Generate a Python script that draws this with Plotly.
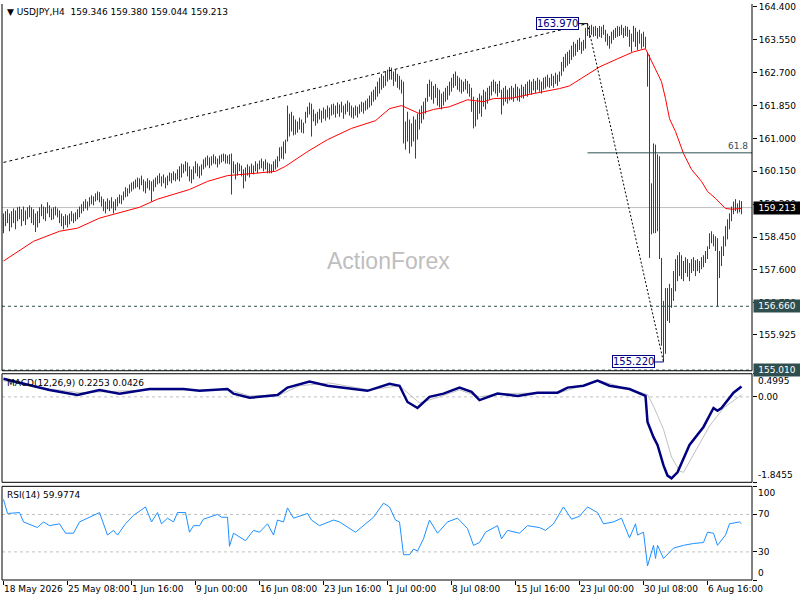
import plotly.graph_objects as go

FONT = 'DejaVu Sans'
BAR_COLOR = '#1A4A6E'
SLATE = '#2F4F4F'
GREY = '#C0C0C0'
NAVY = '#000080'
DEFAULT_CONFIG = {'displayModeBar': False}
JAVASCRIPT = "document.body.style.margin = '0'; document.body.style.overflow = 'hidden';"

# x axis: one slot per H4 bar, no weekend gaps
TICK_BARS = [0, 32, 64, 96, 128, 160, 192, 224, 256, 288, 320, 352]
TICK_LABELS = ['18 May 2026', '25 May 08:00', '1 Jun 16:00', '9 Jun 00:00', '16 Jun 08:00',
               '23 Jun 16:00', '1 Jul 00:00', '8 Jul 08:00', '15 Jul 16:00', '23 Jul 00:00',
               '30 Jul 08:00', '6 Aug 16:00']

HIGH = [
    159.06, 159.12, 159.17, 159.06, 159.12, 159.19, 159.14, 159.22, 159.24, 159.17,
    159.24, 159.14, 159.22, 159.27, 159.22, 159.17, 159.06, 159.12, 159.22, 159.30,
    159.24, 159.22, 159.35, 159.27, 159.19, 159.22, 159.24, 159.19, 159.14, 159.06,
    158.99, 159.04, 159.01, 159.06, 159.12, 159.06, 159.09, 159.17, 159.24, 159.30,
    159.37, 159.43, 159.37, 159.48, 159.53, 159.50, 159.58, 159.63, 159.61, 159.50,
    159.43, 159.37, 159.45, 159.40, 159.48, 159.37, 159.43, 159.48, 159.55, 159.53,
    159.63, 159.74, 159.71, 159.81, 159.86, 159.89, 159.94, 159.99, 159.97, 160.04,
    159.94, 159.89, 159.97, 159.92, 159.89, 159.94, 159.99, 160.04, 160.10, 160.02,
    160.07, 159.99, 160.04, 160.12, 160.10, 160.15, 160.10, 160.20, 160.28, 160.35,
    160.33, 160.41, 160.38, 160.28, 160.20, 160.28, 160.41, 160.35, 160.28, 160.33,
    160.46, 160.51, 160.56, 160.51, 160.54, 160.59, 160.54, 160.48, 160.56, 160.59,
    160.61, 160.59, 160.56, 160.59, 160.61, 160.41, 160.33, 160.38, 160.35, 160.30,
    160.20, 160.25, 160.33, 160.28, 160.35, 160.30, 160.41, 160.35, 160.43, 160.48,
    160.41, 160.46, 160.38, 160.35, 160.33, 160.41, 160.46, 160.54, 160.77, 160.79,
    160.92, 160.97, 161.85, 161.64, 161.69, 161.59, 161.49, 161.44, 161.54, 161.49,
    161.41, 161.69, 161.82, 161.93, 161.90, 161.75, 161.64, 161.69, 161.77, 161.72,
    161.80, 161.75, 161.85, 161.80, 161.88, 161.90, 161.85, 161.93, 161.88, 161.95,
    161.85, 161.90, 161.98, 161.93, 161.85, 161.80, 161.85, 161.82, 161.88, 161.95,
    161.93, 161.98, 162.03, 162.11, 162.21, 162.26, 162.34, 162.47, 162.57, 162.67,
    162.62, 162.73, 162.78, 162.85, 162.83, 162.73, 162.78, 162.67, 162.62, 162.52,
    162.47, 161.44, 161.69, 161.49, 161.39, 161.57, 161.49, 161.64, 161.75, 161.85,
    161.95, 162.05, 162.41, 162.52, 162.47, 162.36, 162.41, 162.31, 162.26, 162.16,
    162.21, 162.31, 162.36, 162.47, 162.57, 162.67, 162.73, 162.62, 162.57, 162.52,
    162.47, 162.54, 162.49, 162.41, 162.31, 162.08, 161.95, 162.05, 162.16, 162.11,
    162.26, 162.21, 162.31, 162.36, 162.47, 162.52, 162.47, 162.41, 162.49, 162.26,
    162.31, 162.36, 162.26, 162.31, 162.36, 162.31, 162.41, 162.34, 162.29, 162.39,
    162.34, 162.41, 162.47, 162.52, 162.47, 162.54, 162.49, 162.57, 162.52, 162.47,
    162.57, 162.60, 162.65, 162.57, 162.67, 162.62, 162.70, 162.65, 162.73, 162.98,
    163.11, 163.19, 163.24, 163.29, 163.40, 163.50, 163.45, 163.55, 163.60, 163.50,
    163.55, 163.86, 163.97, 163.91, 163.94, 163.89, 163.91, 163.86, 163.91, 163.89,
    163.94, 163.81, 163.71, 163.65, 163.76, 163.81, 163.86, 163.91, 163.89, 163.94,
    163.86, 163.91, 163.89, 163.81, 163.71, 163.91, 163.86, 163.76, 163.81, 163.71,
    163.76, 163.63, 163.24, 163.16, 159.84, 160.87, 160.84, 160.59, 160.54, 157.91,
    156.80, 157.13, 157.13, 157.24, 157.13, 157.57, 157.88, 157.98, 158.06, 157.98,
    157.83, 157.93, 157.88, 157.78, 157.88, 157.93, 157.85, 157.88, 157.83, 157.93,
    157.98, 158.09, 158.21, 158.55, 158.60, 158.52, 158.47, 158.42, 158.09, 158.21,
    158.47, 158.73, 158.91, 159.06, 159.24, 159.37, 159.43, 159.32, 159.40, 159.38,
]

LOW = [
    158.55, 158.73, 158.81, 158.60, 158.70, 158.81, 158.65, 158.86, 158.91, 158.73,
    158.86, 158.76, 158.91, 158.96, 158.81, 158.76, 158.58, 158.70, 158.81, 158.99,
    158.91, 158.86, 159.06, 158.96, 158.89, 158.91, 159.01, 158.96, 158.81, 158.73,
    158.65, 158.76, 158.70, 158.78, 158.86, 158.81, 158.86, 158.91, 158.96, 159.06,
    159.12, 159.19, 159.14, 159.24, 159.30, 159.27, 159.37, 159.40, 159.35, 159.24,
    159.12, 159.06, 159.17, 159.12, 159.19, 159.06, 159.14, 159.24, 159.32, 159.30,
    159.40, 159.48, 159.50, 159.58, 159.63, 159.68, 159.71, 159.74, 159.68, 159.79,
    159.63, 159.58, 159.71, 159.66, 159.37, 159.63, 159.74, 159.81, 159.84, 159.76,
    159.84, 159.71, 159.79, 159.89, 159.84, 159.92, 159.89, 159.94, 159.89, 159.99,
    160.10, 160.15, 160.02, 159.89, 159.84, 159.94, 160.10, 160.02, 159.97, 160.04,
    160.20, 160.25, 160.30, 160.23, 160.30, 160.35, 160.33, 160.25, 160.33, 160.38,
    160.41, 160.35, 160.35, 160.33, 159.55, 160.10, 159.94, 160.04, 160.15, 160.02,
    159.71, 159.89, 160.04, 159.99, 160.10, 160.07, 160.15, 160.10, 160.20, 160.23,
    160.15, 160.20, 160.10, 160.10, 160.10, 160.15, 160.20, 160.25, 160.41, 160.48,
    160.46, 160.61, 160.92, 161.05, 161.18, 161.08, 161.10, 161.15, 161.23, 161.15,
    161.13, 161.39, 161.54, 161.62, 161.05, 161.44, 161.33, 161.39, 161.49, 161.41,
    161.51, 161.46, 161.54, 161.49, 161.59, 161.62, 161.54, 161.64, 161.56, 161.67,
    161.51, 161.62, 161.69, 161.59, 161.54, 161.51, 161.59, 161.54, 161.64, 161.69,
    161.64, 161.72, 161.75, 161.80, 161.85, 161.95, 162.00, 162.08, 162.16, 162.26,
    162.31, 162.36, 162.47, 162.52, 162.52, 162.36, 162.47, 162.31, 162.26, 162.16,
    160.87, 160.71, 160.92, 160.61, 160.79, 160.92, 160.48, 160.97, 161.23, 161.39,
    161.49, 161.64, 161.95, 162.08, 162.00, 161.90, 162.05, 161.85, 161.80, 161.75,
    161.85, 161.95, 162.00, 162.11, 162.21, 162.31, 162.36, 162.26, 162.21, 162.16,
    162.21, 162.26, 162.16, 162.08, 161.69, 161.26, 161.31, 161.49, 161.64, 161.56,
    161.82, 161.75, 161.90, 162.00, 162.11, 162.21, 162.16, 162.08, 162.18, 161.62,
    161.85, 161.95, 161.90, 161.98, 162.00, 161.95, 162.05, 161.98, 161.95, 162.05,
    162.03, 162.11, 162.08, 162.16, 162.13, 162.24, 162.18, 162.26, 162.21, 162.16,
    162.26, 162.29, 162.34, 162.31, 162.36, 162.31, 162.41, 162.36, 162.47, 162.62,
    162.73, 162.83, 162.88, 162.93, 163.03, 163.11, 163.14, 163.24, 163.29, 163.19,
    163.27, 163.32, 163.65, 163.60, 163.68, 163.63, 163.65, 163.58, 163.63, 163.60,
    163.68, 163.50, 163.40, 163.32, 163.45, 163.55, 163.60, 163.63, 163.65, 163.68,
    163.60, 163.65, 163.63, 163.37, 163.24, 163.50, 163.37, 163.29, 163.45, 163.32,
    163.37, 163.32, 162.34, 157.91, 158.52, 158.55, 158.55, 158.60, 157.88, 155.64,
    155.22, 155.43, 156.28, 156.23, 156.62, 156.80, 157.05, 157.31, 157.44, 157.36,
    157.31, 157.52, 157.42, 157.31, 157.52, 157.57, 157.44, 157.57, 157.52, 157.62,
    157.67, 157.78, 157.88, 158.14, 158.29, 158.21, 158.09, 156.66, 157.39, 157.70,
    157.96, 158.21, 158.39, 158.65, 158.86, 159.04, 159.12, 159.06, 159.09, 159.04,
]

# moving average read at selected bars
MA_BARS = [0, 15, 28, 37, 48, 57, 68, 77, 85, 93, 102, 107, 112, 126, 136, 141, 152, 162,
           174, 186, 193, 199, 208, 215, 223, 232, 240, 245, 255, 262, 271, 278, 283, 291,
           298, 307, 315, 321, 326, 329, 331, 333, 336, 340, 344, 349, 352, 356, 361, 364, 369]
MA_VALUES = [157.83, 158.34, 158.60, 158.68, 158.94, 159.06, 159.22, 159.43, 159.55, 159.68,
             159.89, 159.97, 160.04, 160.10, 160.15, 160.28, 160.66, 160.97, 161.26, 161.46,
             161.77, 161.85, 161.64, 161.75, 161.82, 162.00, 161.95, 162.03, 162.05, 162.13,
             162.21, 162.29, 162.36, 162.62, 162.85, 163.06, 163.24, 163.32, 162.80, 162.47,
             162.03, 161.51, 161.18, 160.61, 160.20, 159.89, 159.63, 159.45, 159.19, 159.17,
             159.19]

MACD_BARS = [0, 13, 23, 37, 48, 58, 73, 90, 98, 112, 115, 123, 137, 142, 153, 162, 175, 182,
             193, 198, 202, 207, 213, 220, 228, 234, 238, 247, 257, 267, 277, 282, 290, 297,
             303, 313, 321, 322, 325, 327, 330, 332, 334, 337, 343, 350, 355, 357, 359, 365, 369]
MACD_VALUES = [0.39, 0.26, 0.15, 0.04, 0.15, 0.07, 0.17, 0.17, 0.13, 0.17, 0.07, -0.02, 0.04,
               0.20, 0.33, 0.24, 0.17, 0.13, 0.28, 0.24, -0.11, -0.24, 0.00, 0.07, 0.20, 0.11,
               -0.07, 0.07, 0.02, 0.09, 0.09, 0.20, 0.24, 0.35, 0.24, 0.17, 0.02, -0.54, -0.87,
               -1.04, -1.48, -1.70, -1.76, -1.63, -1.04, -0.65, -0.24, -0.30, -0.24, 0.09, 0.2253]

SIGNAL_BARS = [0, 18, 38, 53, 73, 98, 113, 123, 138, 148, 163, 183, 198, 208, 218, 228, 238,
               248, 278, 298, 318, 322, 325, 330, 334, 338, 340, 344, 353, 360, 369]
SIGNAL_VALUES = [0.35, 0.20, 0.09, 0.11, 0.15, 0.15, 0.15, 0.02, 0.04, 0.24, 0.30, 0.15, 0.24,
                 -0.13, 0.00, 0.15, 0.00, 0.07, 0.09, 0.35, 0.11, 0.05, -0.20, -0.70, -1.30,
                 -1.60, -1.63, -1.33, -0.63, -0.24, 0.0426]

RSI_BARS = [0, 2, 8, 10, 17, 20, 23, 28, 31, 35, 38, 42, 48, 52, 55, 57, 61, 65, 71, 74, 77,
            79, 82, 85, 87, 91, 93, 95, 98, 100, 107, 109, 112, 113, 115, 121, 125, 128, 132,
            135, 137, 140, 142, 145, 152, 154, 158, 165, 168, 176, 185, 190, 193, 196, 198,
            200, 203, 205, 207, 210, 213, 217, 222, 227, 232, 235, 238, 241, 247, 249, 252,
            258, 262, 268, 271, 275, 280, 284, 288, 292, 297, 300, 305, 309, 313, 316, 317,
            320, 322, 325, 326, 327, 330, 335, 340, 345, 350, 352, 355, 357, 361, 363, 368, 369]
RSI_VALUES = [86, 71, 72, 62, 56, 62, 58, 60, 50, 50, 62, 66, 72, 48, 53, 48, 60, 69, 78, 62,
              72, 60, 66, 62, 72, 72, 51, 58, 58, 65, 70, 67, 67, 36, 50, 42, 53, 51, 60, 48,
              64, 62, 77, 66, 71, 64, 58, 64, 62, 51, 67, 82, 78, 64, 62, 27, 27, 33, 31, 44,
              64, 50, 62, 66, 55, 37, 40, 51, 58, 44, 53, 50, 58, 56, 53, 60, 78, 65, 68, 78,
              72, 60, 62, 66, 45, 60, 48, 51, 15, 37, 23, 37, 23, 34, 37, 39, 40, 51, 50, 37,
              48, 60, 62, 59.9774]

PRICE_TICKS = [164.400, 163.550, 162.700, 161.850, 161.000, 160.150, 159.300, 158.450,
               157.600, 156.750, 155.925]
PRICE_RANGE = [154.993, 164.477]
SWING_HIGH = (292, 163.970)
SWING_LOW = (330, 155.220)
TREND_START = (0, 160.38)
FIB_618 = 160.628
LAST_PRICE = 159.213
SUPPORT = 156.660
LOWER_LINE = 155.010

MACD_RANGE = [-1.8455, 0.4995]
RSI_LEVELS = [70, 30]

PRICE_DOMAIN = [0.3633, 1.0]
MACD_DOMAIN = [0.1696, 0.3581]
RSI_DOMAIN = [0.0, 0.1626]
X_RANGE = [-0.75, 374.25]

bar_x, bar_y = [], []
for i, (hi, lo) in enumerate(zip(HIGH, LOW)):
    bar_x += [i, i, None]
    bar_y += [lo, hi, None]

fig = go.Figure()

fig.add_trace(go.Scatter(x=bar_x, y=bar_y, mode='lines', line=dict(color=BAR_COLOR, width=1),
                         yaxis='y', hoverinfo='skip'))
fig.add_trace(go.Scatter(x=MA_BARS, y=MA_VALUES, mode='lines', line=dict(color='#FF0000', width=1),
                         yaxis='y'))
fig.add_trace(go.Scatter(x=SIGNAL_BARS, y=SIGNAL_VALUES, mode='lines', line=dict(color=GREY, width=1),
                         yaxis='y2'))
fig.add_trace(go.Scatter(x=MACD_BARS, y=MACD_VALUES, mode='lines', line=dict(color=NAVY, width=2.5),
                         yaxis='y2'))
fig.add_trace(go.Scatter(x=RSI_BARS, y=RSI_VALUES, mode='lines', line=dict(color='#1E90FF', width=1),
                         yaxis='y3'))

shapes = []
# price lines
shapes.append(dict(type='line', xref='paper', x0=0, x1=1, yref='y', y0=LAST_PRICE, y1=LAST_PRICE,
                   line=dict(color=GREY, width=1), layer='below'))
shapes.append(dict(type='line', xref='paper', x0=0, x1=1, yref='y', y0=SUPPORT, y1=SUPPORT,
                   line=dict(color=SLATE, width=1, dash='3px,3px')))
shapes.append(dict(type='line', xref='paper', x0=0, x1=1, yref='y', y0=LOWER_LINE, y1=LOWER_LINE,
                   line=dict(color=SLATE, width=1, dash='3px,3px')))
shapes.append(dict(type='line', xref='x', x0=SWING_HIGH[0], x1=X_RANGE[1], yref='y', y0=FIB_618, y1=FIB_618,
                   line=dict(color=SLATE, width=1)))
# trend lines
shapes.append(dict(type='line', xref='x', yref='y', x0=TREND_START[0], y0=TREND_START[1],
                   x1=SWING_HIGH[0], y1=SWING_HIGH[1], line=dict(color='black', width=1, dash='3px,3px')))
shapes.append(dict(type='line', xref='x', yref='y', x0=SWING_HIGH[0], y0=SWING_HIGH[1],
                   x1=SWING_LOW[0], y1=SWING_LOW[1], line=dict(color='black', width=1, dash='2px,2px')))
shapes.append(dict(type='line', xref='x', yref='y', x0=SWING_HIGH[0] - 4.5, x1=SWING_HIGH[0],
                   y0=SWING_HIGH[1], y1=SWING_HIGH[1], line=dict(color='black', width=1)))
shapes.append(dict(type='line', xref='x', yref='y', x0=SWING_LOW[0] - 4.5, x1=SWING_LOW[0],
                   y0=SWING_LOW[1], y1=SWING_LOW[1], line=dict(color=NAVY, width=1)))
# indicator levels
shapes.append(dict(type='line', xref='paper', x0=0, x1=1, yref='y2', y0=0, y1=0,
                   line=dict(color=GREY, width=1, dash='3px,3px'), layer='below'))
for lvl in RSI_LEVELS:
    shapes.append(dict(type='line', xref='paper', x0=0, x1=1, yref='y3', y0=lvl, y1=lvl,
                       line=dict(color=GREY, width=1, dash='3px,3px'), layer='below'))
# panel borders
y0, y1 = PRICE_DOMAIN
for x in (0, 1):
    shapes.append(dict(type='line', xref='paper', yref='paper', x0=x, x1=x, y0=y0, y1=y1,
                       line=dict(color='black', width=1)))
shapes.append(dict(type='line', xref='paper', yref='paper', x0=0, x1=1, y0=y0, y1=y0,
                   line=dict(color='black', width=1)))
for y0, y1 in [MACD_DOMAIN, RSI_DOMAIN]:
    shapes.append(dict(type='rect', xref='paper', yref='paper', x0=0, x1=1, y0=y0, y1=y1,
                       line=dict(color='black', width=1)))

small = dict(family=FONT, size=9, color='black')
annotations = [
    dict(xref='paper', yref='paper', x=0.004, y=0.986, xanchor='left', yanchor='middle', showarrow=False,
         text='\u25bc USDJPY,H4  159.346 159.380 159.044 159.213', font=small),
    dict(xref='paper', yref='paper', x=0.5147, y=0.5536, showarrow=False, text='ActionForex',
         font=dict(family='Liberation Sans', size=23, color='#BEBEBE')),
    dict(xref='x', yref='y', x=SWING_HIGH[0] - 4.5, y=SWING_HIGH[1], xanchor='right', showarrow=False,
         text='163.970', font=dict(family=FONT, size=10, color=NAVY), bgcolor='white',
         bordercolor=NAVY, borderwidth=1, borderpad=0),
    dict(xref='x', yref='y', x=SWING_LOW[0] - 4.5, y=SWING_LOW[1], xanchor='right', showarrow=False,
         text='155.220', font=dict(family=FONT, size=10, color=NAVY), bgcolor='white',
         bordercolor=NAVY, borderwidth=1, borderpad=0),
    dict(xref='paper', yref='y', x=0.997, y=FIB_618, xanchor='right', yanchor='bottom', showarrow=False,
         text='61.8', font=dict(family=FONT, size=9, color=SLATE)),
    dict(xref='paper', yref='paper', x=0.004, y=0.3426, xanchor='left', yanchor='middle', showarrow=False,
         text='MACD(12,26,9) 0.2253 0.0426', font=small),
    dict(xref='paper', yref='paper', x=0.004, y=0.147, xanchor='left', yanchor='middle', showarrow=False,
         text='RSI(14) 59.9774', font=small),
]
for val, bg in [(LAST_PRICE, 'black'), (SUPPORT, SLATE), (LOWER_LINE, SLATE)]:
    annotations.append(dict(xref='paper', yref='y', x=1, xshift=1, y=val, xanchor='left', showarrow=False,
                            text=f'{val:.3f}', font=dict(family=FONT, size=9, color='white'),
                            bgcolor=bg, borderpad=1, width=44))
for val, txt, anchor in [(MACD_RANGE[1], '0.4995', 'top'), (0, '0.00', 'middle'),
                         (MACD_RANGE[0], '-1.8455', 'bottom')]:
    annotations.append(dict(xref='paper', yref='y2', x=1, xshift=4, y=val, xanchor='left', yanchor=anchor,
                            showarrow=False, text=txt, font=small))
for val, txt, anchor in [(100, '100', 'top'), (70, '70', 'middle'), (30, '30', 'middle'), (0, '0', 'bottom')]:
    annotations.append(dict(xref='paper', yref='y3', x=1, xshift=4, y=val, xanchor='left', yanchor=anchor,
                            showarrow=False, text=txt, font=small))

fig.update_layout(
    width=800, height=600,
    margin=dict(l=2, r=48, t=2, b=20),
    paper_bgcolor='white', plot_bgcolor='white',
    showlegend=False,
    font=small,
    shapes=shapes,
    annotations=annotations,
    xaxis=dict(range=X_RANGE, anchor='y3', showgrid=False, zeroline=False, showline=False,
               tickvals=TICK_BARS, ticktext=TICK_LABELS, ticks='outside', ticklen=4, tickcolor='black',
               tickangle=0, ticklabelposition='outside right', tickfont=small),
    yaxis=dict(domain=PRICE_DOMAIN, range=PRICE_RANGE, side='right', anchor='x', showgrid=False,
               zeroline=False, showline=False, tickvals=PRICE_TICKS,
               ticktext=[f'{t:.3f}' for t in PRICE_TICKS], ticks='outside', ticklen=4,
               tickcolor='black', tickfont=small),
    yaxis2=dict(domain=MACD_DOMAIN, range=MACD_RANGE, side='right', anchor='x', showgrid=False,
                zeroline=False, showline=False, tickvals=[MACD_RANGE[1], 0, MACD_RANGE[0]],
                showticklabels=False, ticks='outside', ticklen=4, tickcolor='black'),
    yaxis3=dict(domain=RSI_DOMAIN, range=[0, 100], side='right', anchor='x', showgrid=False,
                zeroline=False, showline=False, tickvals=[100, 70, 30, 0],
                showticklabels=False, ticks='outside', ticklen=4, tickcolor='black'),
)

fig.write_html('out.html', config=DEFAULT_CONFIG, post_script=[JAVASCRIPT])
